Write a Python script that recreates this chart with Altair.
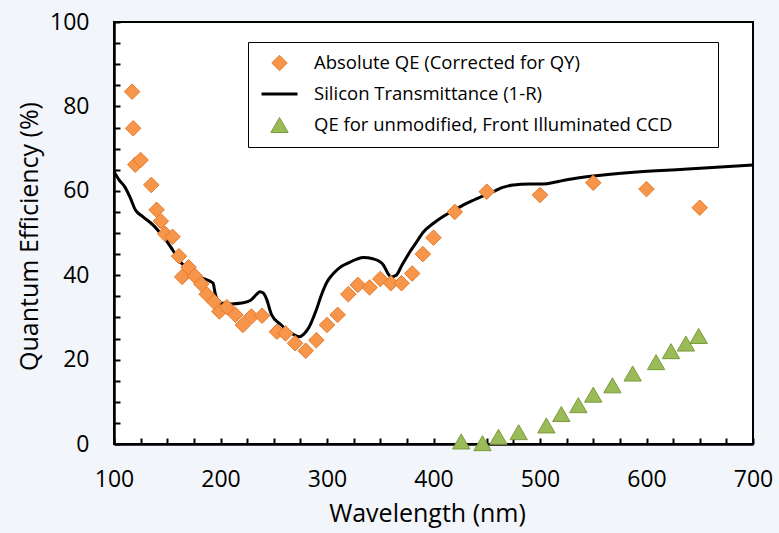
import altair as alt
import pandas as pd

S_QE = "Absolute QE (Corrected for QY)"
S_SI = "Silicon Transmittance (1-R)"
S_CCD = "QE for unmodified, Front Illuminated CCD"
series = [S_QE, S_SI, S_CCD]

# Absolute QE (orange diamonds)
qe_wl = [117, 118, 120, 125, 135, 140, 144, 148, 155, 161, 164, 170, 176, 182, 187,
         194, 199, 206, 214, 221, 229, 239, 253, 261, 270, 280, 290, 300, 310, 320,
         329, 340, 350, 360, 370, 380, 390, 400, 420, 450, 500, 550, 600, 650]
qe_val = [83.5, 74.8, 66.2, 67.3, 61.4, 55.5, 52.8, 49.8, 49.1, 44.5, 39.6, 41.9, 39.8, 37.9, 35.5,
          33.7, 31.4, 32.4, 30.6, 28.2, 30.2, 30.4, 26.6, 26.2, 23.9, 22.1, 24.6, 28.2, 30.6, 35.5,
          37.7, 37.1, 39.1, 38.1, 38.1, 40.4, 45.0, 48.9, 55.0, 59.8, 59.0, 61.9, 60.4, 56.0]

# Front illuminated CCD (green triangles)
ccd_wl = [426, 446, 461, 480, 506, 520, 536, 550, 568, 587, 609, 623, 637, 649]
ccd_val = [0.6, 0.2, 1.7, 2.8, 4.4, 7.1, 9.2, 11.7, 13.9, 16.7, 19.4, 22.0, 23.8, 25.6]

# Silicon transmittance (black line)
si_wl = [100, 105, 110, 115, 120, 127, 137, 145, 150, 155, 165, 172, 180, 190, 193,
         195, 200, 205, 210, 220, 228, 234, 237, 240, 243, 248, 257, 267, 274, 278,
         283, 290, 295, 300, 306, 312, 320, 328, 334, 343, 349, 353, 357, 360, 365,
         370, 378, 385, 390, 400, 409, 420, 431, 443, 456, 465, 475, 490, 503, 515,
         525, 550, 588, 635, 700]
si_val = [64.5, 62.5, 61.0, 58.5, 55.5, 53.9, 51.8, 49.5, 47.9, 46.0, 42.4, 41.0, 39.6, 38.6, 38.1,
          35.7, 33.3, 33.4, 33.2, 33.4, 34.0, 35.5, 36.1, 35.8, 34.5, 30.6, 28.2, 26.2, 25.4, 26.0,
          27.6, 31.8, 35.5, 38.4, 40.4, 41.8, 42.9, 43.8, 44.2, 43.9, 43.3, 42.4, 40.5, 39.6, 40.0,
          42.2, 45.6, 48.2, 50.1, 52.3, 53.9, 55.5, 57.0, 58.4, 59.8, 60.8, 61.4, 61.6, 61.6, 62.1,
          62.6, 63.5, 64.4, 65.1, 66.1]

x_labels = [100, 200, 300, 400, 500, 600, 700]
x_minor = list(range(100, 701, 25))
y_labels = [0, 20, 40, 60, 80, 100]
y_minor = list(range(0, 101, 5))

fill_colors = ["#F7964A", "#000000", "#9BBB59"]
stroke_colors = ["#E47A2C", "#000000", "#7A9A3C"]
shapes = ["diamond", "stroke", "triangle-up"]
sizes = [240, 1296, 300]
stroke_widths = [1, 3, 1]

W, H = 639, 422
FONT = "Open Sans"

pts = pd.DataFrame({
    "wl": qe_wl + ccd_wl,
    "val": qe_val + ccd_val,
    "series": [S_QE] * len(qe_wl) + [S_CCD] * len(ccd_wl),
})
line_df = pd.DataFrame({"wl": si_wl, "val": si_val})

xs = alt.Scale(domain=[100, 700], nice=False)
ys = alt.Scale(domain=[0, 100], nice=False)

# blank (non-whitespace) padding widens the legend box like the reference
lab = "datum.label + '\u00a0" + "\u2800" * 2 + "'"

line = alt.Chart(line_df).mark_line(strokeWidth=3, interpolate="monotone", color="black").encode(
    x=alt.X("wl:Q", scale=xs, axis=alt.Axis(
        orient="top", offset=-H, values=x_minor, labels=False, domain=False, grid=False,
        ticks=True, tickSize=6, tickWidth=2, tickColor="black", title=None)),
    y=alt.Y("val:Q", scale=ys, axis=alt.Axis(
        orient="right", offset=-W, values=y_minor, labels=False, domain=False, grid=False,
        ticks=True, tickSize=6, tickWidth=2, tickColor="black", title=None)),
)

leg = alt.Legend(title=None, labelExpr=lab)

points = alt.Chart(pts).mark_point(filled=True, opacity=1).encode(
    x=alt.X("wl:Q", scale=xs, axis=alt.Axis(
        orient="bottom", values=x_labels, ticks=False, tickSize=0, grid=False,
        labelFlush=False, labelOverlap=False,
        domainColor="black", domainWidth=2.5, labelFont=FONT, labelFontSize=23,
        labelColor="black", labelPadding=24, title="Wavelength (nm)", titleFont=FONT,
        titleFontSize=25, titleFontWeight="normal", titleColor="black",
        titleBaseline="alphabetic", titleY=77, titleX=313)),
    y=alt.Y("val:Q", scale=ys, axis=alt.Axis(
        orient="left", values=y_labels, ticks=False, tickSize=0, grid=False,
        labelFlush=False, labelOverlap=False,
        domainColor="black", domainWidth=2.5, labelFont=FONT, labelFontSize=23,
        labelColor="black", labelPadding=25, title="Quantum Efficiency (%)", titleFont=FONT,
        titleFontSize=25, titleFontWeight="normal", titleColor="black",
        titleBaseline="alphabetic", titleX=-77, titleY=214, titleAngle=270)),
    color=alt.Color("series:N", scale=alt.Scale(domain=series, range=fill_colors), legend=leg),
    stroke=alt.Stroke("series:N", scale=alt.Scale(domain=series, range=stroke_colors), legend=leg),
    shape=alt.Shape("series:N", scale=alt.Scale(domain=series, range=shapes), legend=leg),
    size=alt.Size("series:N", scale=alt.Scale(type="ordinal", domain=series, range=sizes), legend=leg),
    strokeWidth=alt.StrokeWidth("series:N", scale=alt.Scale(type="ordinal", domain=series, range=stroke_widths), legend=leg),
)

chart = alt.layer(line, points).properties(
    width=W, height=H,
    autosize=alt.AutoSizeParams(type="none"),
    padding={"left": 114, "top": 22, "right": 26, "bottom": 89},
    background="#F2F5F9",
).configure_view(
    fill="white", stroke="black", strokeWidth=2
).configure_legend(
    orient="none", legendX=134, legendY=20, padding=12,
    strokeColor="black", fillColor="white", cornerRadius=0,
    labelFont=FONT, labelFontSize=18.5, labelColor="black",
    labelOffset=15, rowPadding=12, clipHeight=18, labelLimit=800,
)

chart.save("out.html", embed_options={"renderer": "svg", "actions": False})
